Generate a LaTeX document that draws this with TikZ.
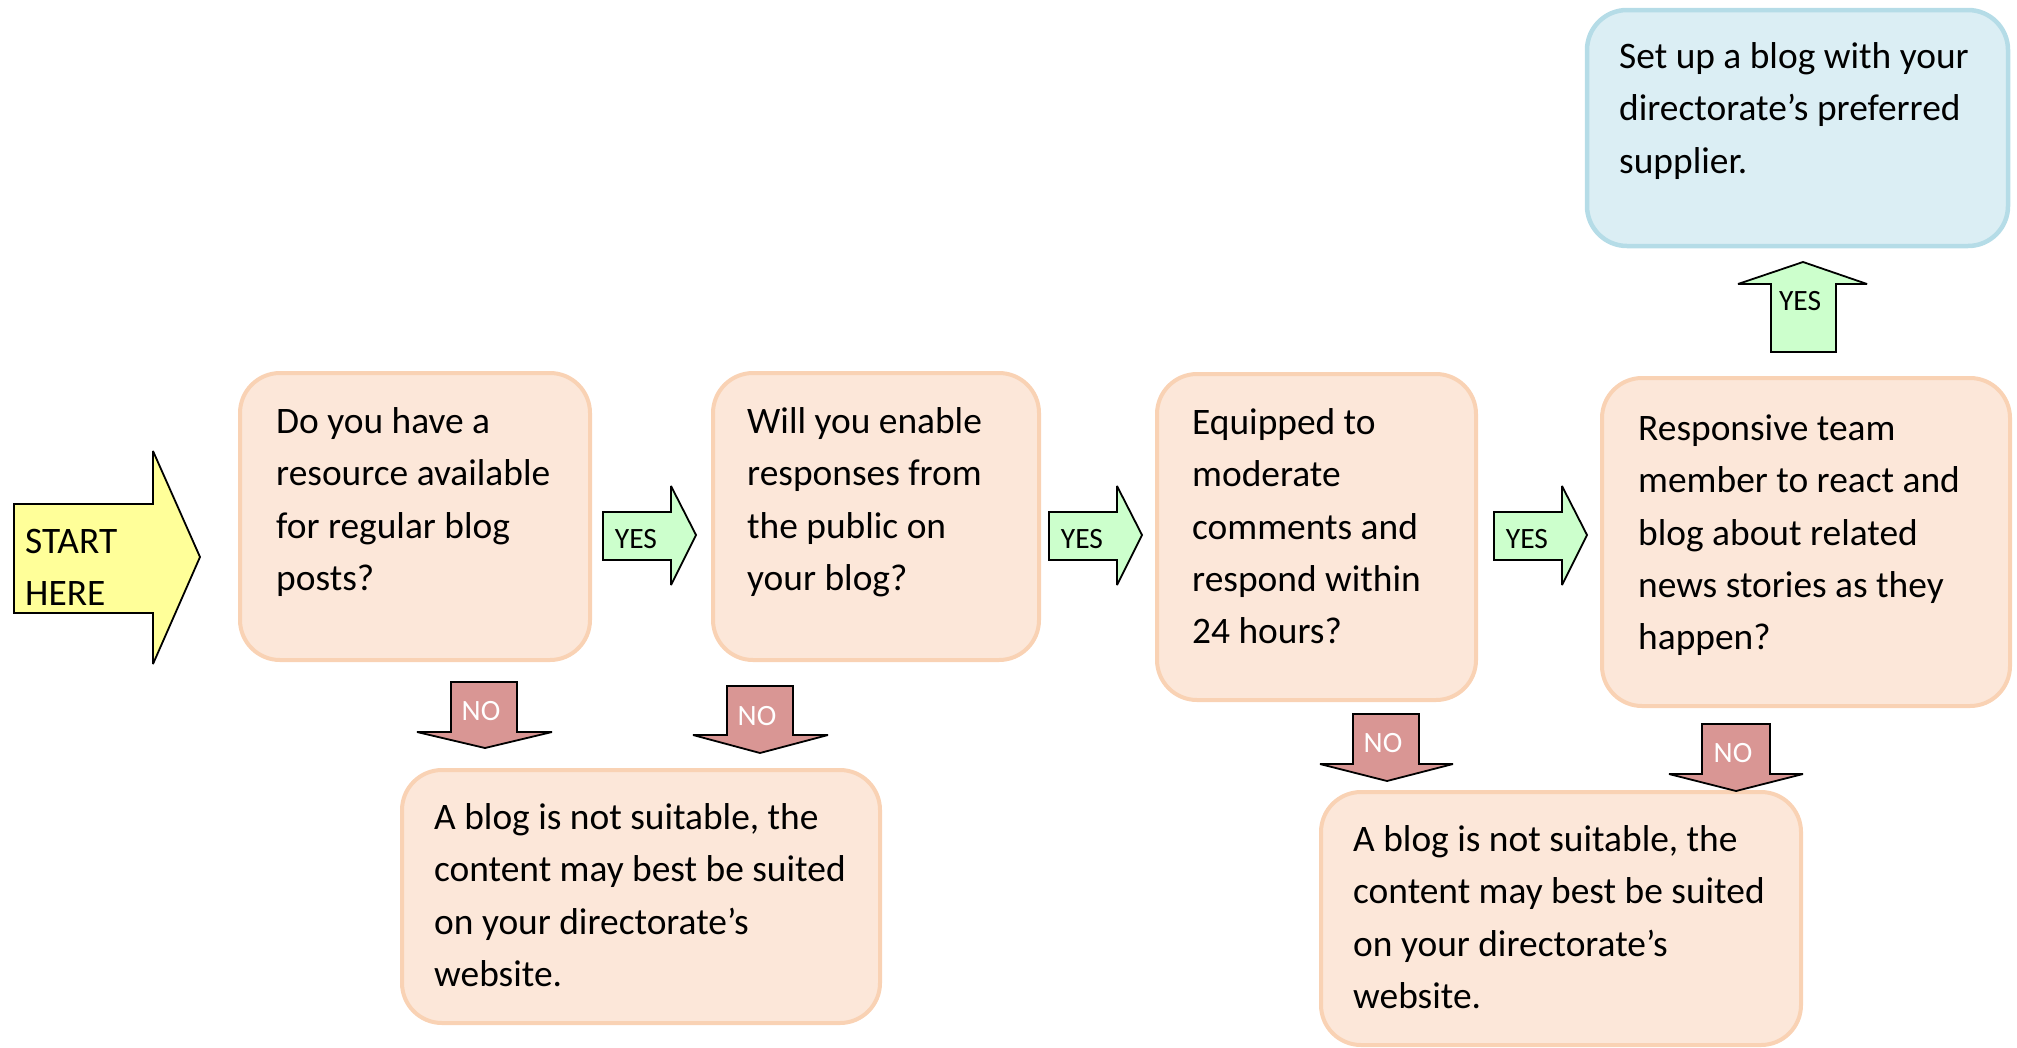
\documentclass[tikz,border=0pt]{standalone}
\usepackage{fontspec}
\setmainfont{Carlito}
\definecolor{peach}{HTML}{FCE7D9}
\definecolor{peachline}{HTML}{F9D2B4}
\definecolor{bluefill}{HTML}{DBEEF4}
\definecolor{blueline}{HTML}{B5DCE7}
\definecolor{yesgreen}{HTML}{CCFFCC}
\definecolor{norose}{HTML}{D99694}
\definecolor{startyellow}{HTML}{FFFF99}
\newcommand\fl{\rule{0pt}{28pt}}
\tikzset{
  qbox/.style={draw=peachline, fill=peach, line width=4pt, rounded corners=40pt, inner sep=0pt},
  abox/.style={draw=blueline, fill=bluefill, line width=4.5pt, rounded corners=40pt, inner sep=0pt},
  txt/.style={anchor=north west, inner sep=0pt, align=left, font={\fontsize{37.4}{52.4}\selectfont}},
  yesarrow/.style={draw=black, fill=yesgreen, line width=1.8pt, line join=miter, miter limit=2.5},
  noarrow/.style={draw=black, fill=norose, line width=1.8pt, line join=miter, miter limit=2.5},
  startarrow/.style={draw=black, fill=startyellow, line width=1.8pt, line join=miter, miter limit=2.5},
  yeslbl/.style={inner sep=0pt, font={\fontsize{29.5}{34}\selectfont}},
  nolbl/.style={inner sep=0pt, text=white, font={\fontsize{29.5}{34}\selectfont}}
}
\begin{document}
\begin{tikzpicture}[x=1pt, y=-1pt]
\useasboundingbox (0,0) rectangle (2017,1047);

% question boxes
\node[qbox, minimum width=350pt, minimum height=287pt] (b1) at (415,516.5) {};
\node[qbox, minimum width=326pt, minimum height=287pt] (b2) at (876,516.5) {};
\node[qbox, minimum width=319pt, minimum height=326pt] (b3) at (1316.5,537) {};
\node[qbox, minimum width=408pt, minimum height=328pt] (b4) at (1806,542) {};
\node[abox, minimum width=421pt, minimum height=236pt] (bl) at (1797.5,128) {};
\node[qbox, minimum width=478pt, minimum height=253pt] (n1) at (641,896.5) {};
\node[qbox, minimum width=480pt, minimum height=253pt] (n2) at (1561,918.5) {};

% texts
\node[txt] (t1) at (276,405) {\fl Do you have a\\resource available\\for regular blog\\posts?};
\node[txt] (t2) at (747,405) {\fl Will you enable\\responses from\\the public on\\your blog?};
\node[txt] (t3) at (1192,406) {\fl Equipped to\\moderate\\comments and\\respond within\\24 hours?};
\node[txt] (t4) at (1638,412) {\fl Responsive team\\member to react and\\blog about related\\news stories as they\\happen?};
\node[txt] (tb) at (1619,40) {\fl Set up a blog with your\\directorate’s preferred\\supplier.};
\node[txt] (tn1) at (434,801) {\fl A blog is not suitable, the\\content may best be suited\\on your directorate’s\\website.};
\node[txt] (tn2) at (1353,823) {\fl A blog is not suitable, the\\content may best be suited\\on your directorate’s\\website.};

% start arrow
\draw[startarrow] (14,504) -- (153,504) -- (153,451) -- (200,557) -- (153,664) -- (153,613) -- (14,613) -- cycle;
\node[txt] (st) at (25,525) {\fl START\\HERE};

% yes arrows (right)
\foreach \dx/\nm in {0/y1, 446/y2, 891/y3}{
  \draw[yesarrow] (603+\dx,512) -- (671+\dx,512) -- (671+\dx,486) -- (696+\dx,535) -- (671+\dx,585) -- (671+\dx,560) -- (603+\dx,560) -- cycle;
  \node[yeslbl] (\nm) at (636+\dx,539) {YES};
}

% yes arrow (up)
\draw[yesarrow] (1771,352) -- (1771,284) -- (1738,284) -- (1803,262) -- (1867,284) -- (1836,284) -- (1836,352) -- cycle;
\node[yeslbl] (y4) at (1800,301) {YES};

% no arrows
\draw[noarrow] (451,682) -- (517,682) -- (517,732) -- (552,732) -- (485,748) -- (417,732) -- (451,732) -- cycle;
\node[nolbl] (no1) at (481,711) {NO};
\draw[noarrow] (727,686) -- (793,686) -- (793,735) -- (828,735) -- (760,753) -- (693,735) -- (727,735) -- cycle;
\node[nolbl] (no2) at (757,716) {NO};
\draw[noarrow] (1353,714) -- (1419,714) -- (1419,764) -- (1453,764) -- (1387,781) -- (1320,764) -- (1353,764) -- cycle;
\node[nolbl] (no3) at (1383,743) {NO};
\draw[noarrow] (1702,724) -- (1770,724) -- (1770,774) -- (1803,774) -- (1736,791) -- (1669,774) -- (1702,774) -- cycle;
\node[nolbl] (no4) at (1733,753) {NO};
\end{tikzpicture}
\end{document}
